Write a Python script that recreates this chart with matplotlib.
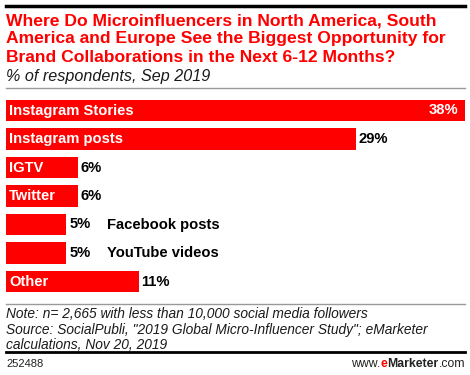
import matplotlib
matplotlib.use("Agg")
from matplotlib import pyplot as plt
from matplotlib.lines import Line2D

categories = ["Instagram Stories", "Instagram posts", "IGTV", "Twitter",
              "Facebook posts", "YouTube videos", "Other"]
values = [38, 29, 6, 6, 5, 5, 11]
# categories whose name does not fit inside the bar
outside = ["Facebook posts", "YouTube videos"]

W, H = 470, 375
fig = plt.figure(figsize=(W / 100, H / 100), dpi=100)
fig.patch.set_facecolor("white")

def px(x, y):
    return x / W, 1 - y / H

red = "#ff0000"
font = "Liberation Sans"
lab = 10.6

# top rule
fig.add_artist(Line2D([6 / W, 465 / W], [1 - 6 / H] * 2, color="black", lw=2.5))

title = ("Where Do Microinfluencers in North America, South\n"
         "America and Europe See the Biggest Opportunity for\n"
         "Brand Collaborations in the Next 6-12 Months?")
fig.text(*px(6, 13), title, color=red, fontsize=12.6, fontweight="bold",
         family=font, va="top", ha="left", linespacing=1.28)
fig.text(*px(6, 69), "% of respondents, Sep 2019", fontsize=11.6, style="italic",
         family=font, va="top", ha="left", color="#1a1a1a")
fig.add_artist(Line2D([6 / W, 465 / W], [1 - 88 / H] * 2, color="#999999", lw=1))

# bars
top, bottom = 96.25, 295.75
ax = fig.add_axes([6 / W, 1 - bottom / H, 459 / W, (bottom - top) / H])
ypos = list(range(len(values)))
ax.barh(ypos, values, height=0.74, color=red, edgecolor="none")
ax.set_xlim(0, 38)
ax.set_ylim(len(values) - 0.5, -0.5)
ax.axis("off")

for i, (cat, v) in enumerate(zip(categories, values)):
    if cat in outside:
        ax.text(v + 0.25, i, f"{v}%", va="center", ha="left", fontsize=lab,
                fontweight="bold", family=font, color="black")
        ax.text(8.35, i, cat, va="center", ha="left", fontsize=lab,
                fontweight="bold", family=font, color="black")
        continue
    ax.text(0.27, i, cat, va="center", ha="left", fontsize=lab,
            fontweight="bold", family=font, color="white")
    if v == max(values):
        ax.text(v - 0.55, i, f"{v}%", va="center", ha="right", fontsize=lab,
                fontweight="bold", family=font, color="white")
    else:
        ax.text(v + 0.2, i, f"{v}%", va="center", ha="left", fontsize=lab,
                fontweight="bold", family=font, color="black")

# footer
fig.add_artist(Line2D([6 / W, 465 / W], [1 - 304 / H] * 2, color="#999999", lw=1))
note = ("Note: n= 2,665 with less than 10,000 social media followers\n"
        "Source: SocialPubli, \"2019 Global Micro-Influencer Study\"; eMarketer\n"
        "calculations, Nov 20, 2019")
fig.text(*px(6, 307), note, fontsize=9.9, style="italic", family=font,
         va="top", ha="left", color="#1a1a1a", linespacing=1.15)
fig.add_artist(Line2D([6 / W, 465 / W], [1 - 352 / H] * 2, color="black", lw=2))
fig.text(*px(6, 364), "252488", fontsize=8, family=font, va="center",
         ha="left", color="#222222")

# url built from pieces, right to left
x = 465
for piece, col, wt in [(".com", "#222222", "normal"), ("Marketer", "#222222", "bold"),
                       ("e", red, "bold"), ("www.", "#222222", "normal")]:
    tt = fig.text(*px(x, 364), piece, fontsize=8.8, family=font, va="center",
                  ha="right", color=col, fontweight=wt)
    fig.canvas.draw()
    x -= tt.get_window_extent().width

fig.savefig("out.png", dpi=100)
